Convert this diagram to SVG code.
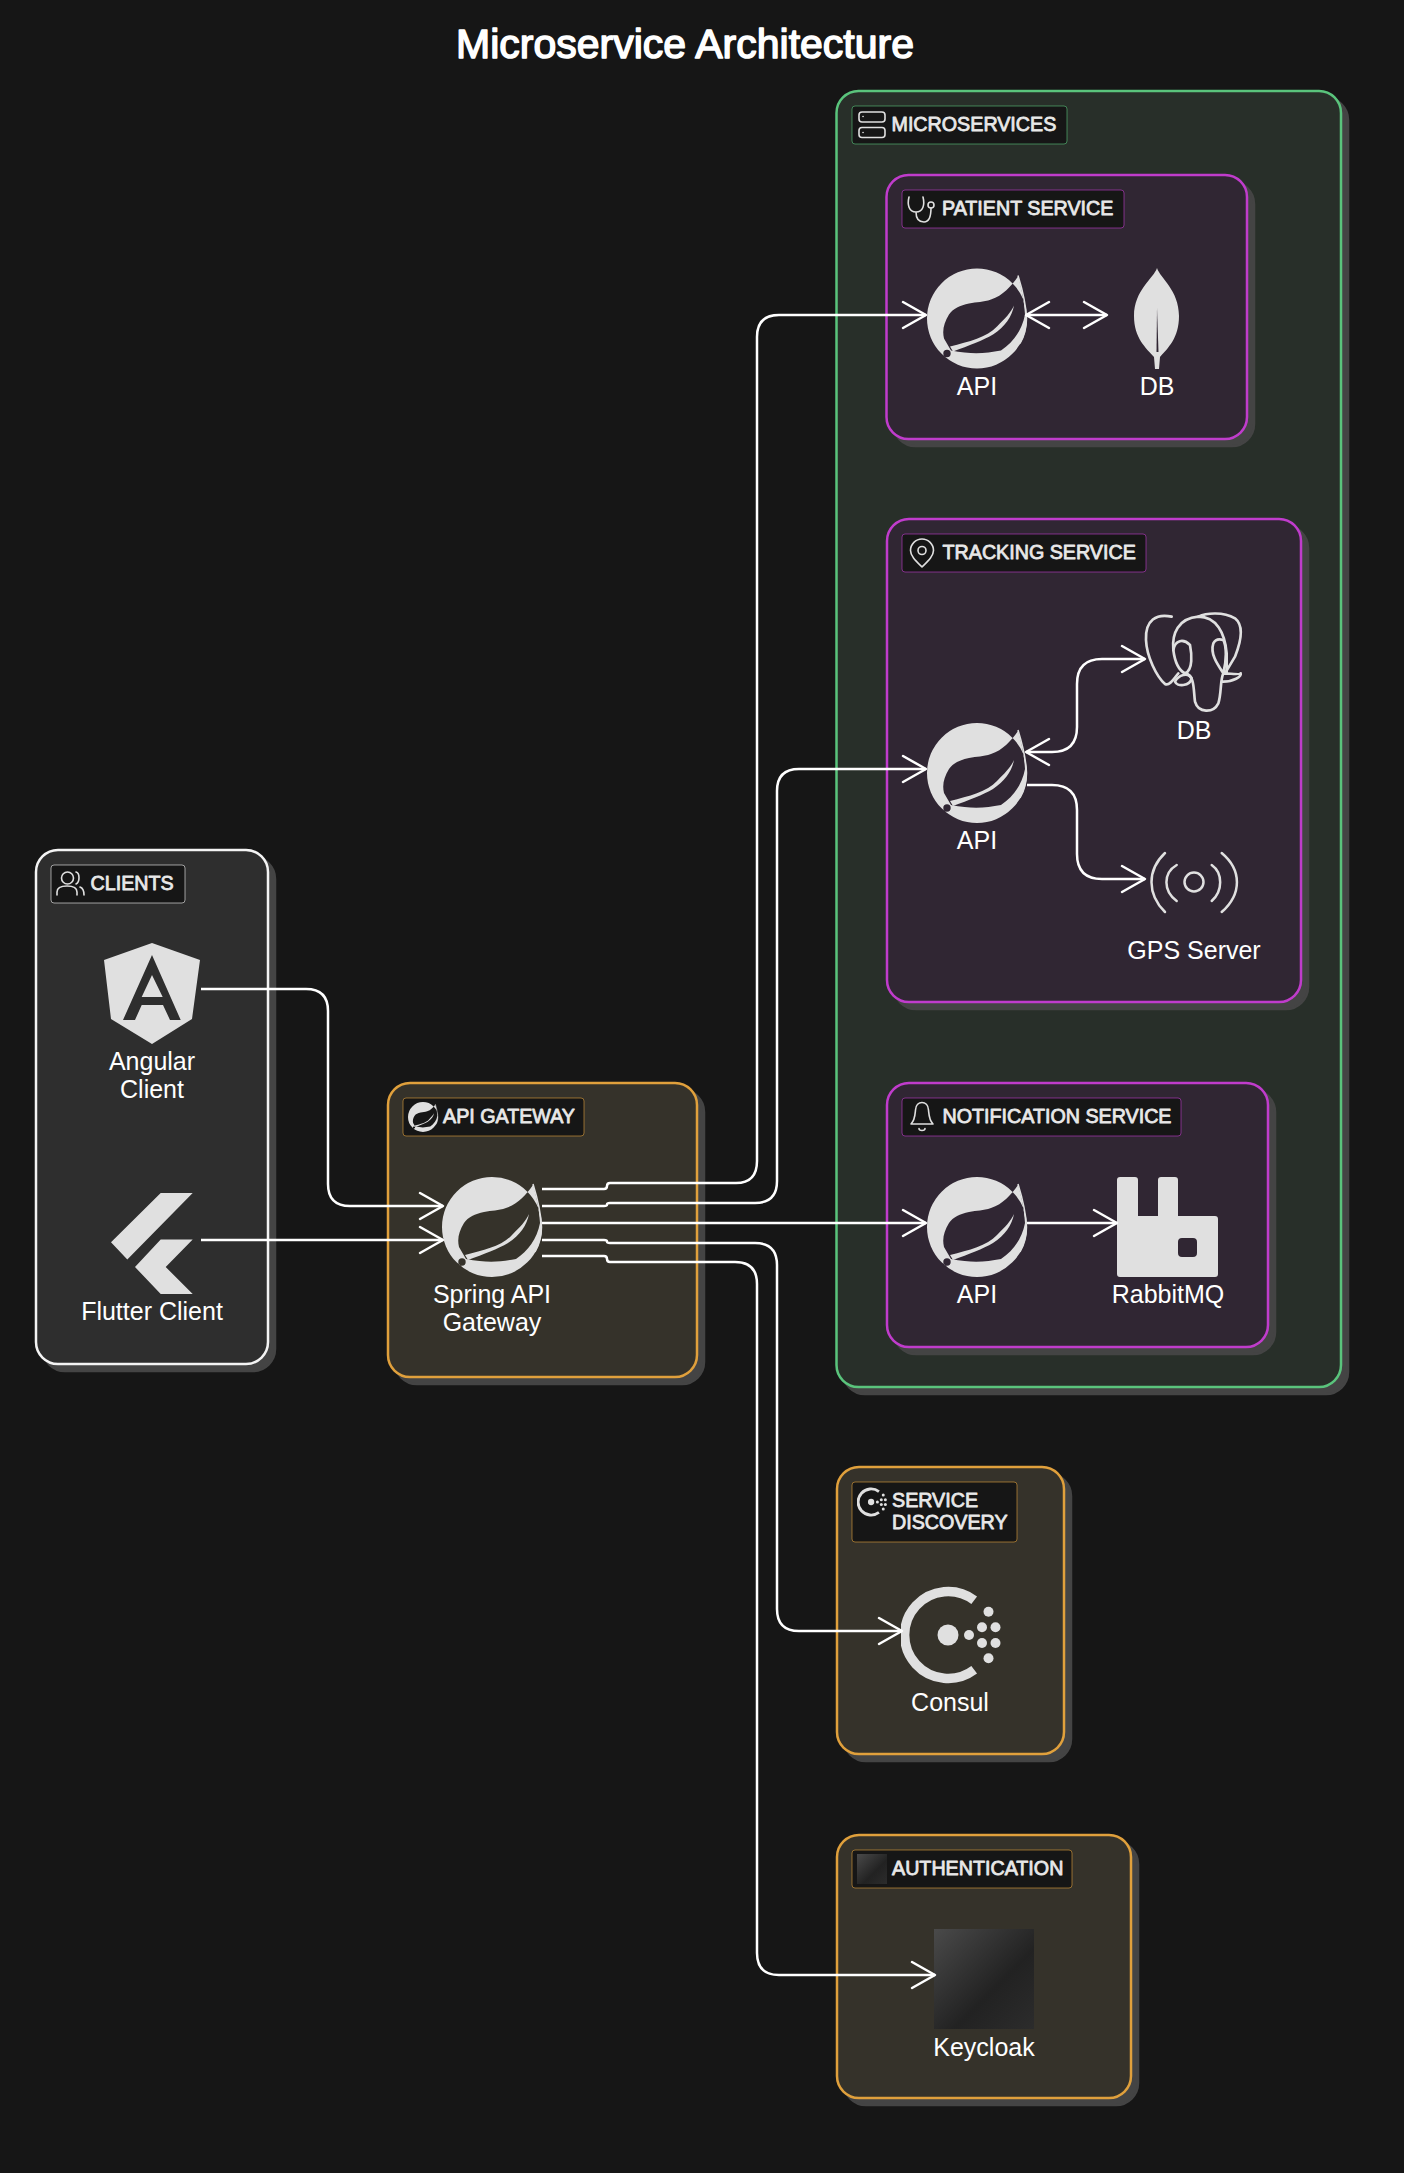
<svg xmlns="http://www.w3.org/2000/svg" width="1404" height="2173" viewBox="0 0 1404 2173">
<style>
text{font-family:"Liberation Sans",Arial,sans-serif}
.bg{fill:#161616}
.sh{fill:#444;stroke:#444;stroke-width:2.5}
.box{stroke-width:2.5}
.c-w{fill:#2e2e2e;stroke:#f4f4f4}
.c-o{fill:#35322a;stroke:#e0a03c}
.c-g{fill:#282f29;stroke:#5ac47c}
.c-p{fill:#302633;stroke:#c03ccc}
.lb{fill:#161616;stroke-width:1;stroke-opacity:.6}
.lt{font-size:19.7px;fill:#e8e8e8;stroke:#e8e8e8;stroke-width:.8;stroke-linejoin:round}
.nt{font-size:25px;fill:#fff;text-anchor:middle}
.ico{fill:#e0e0e0}
.ol2{fill:none;stroke:#e0e0e0;stroke-width:1.6;stroke-linecap:round;stroke-linejoin:round}
.e{fill:none;stroke:#fff;stroke-width:2.5}
.h{fill:none;stroke:#fff;stroke-width:2.5;stroke-linecap:round;stroke-linejoin:round}
</style>
<defs>
<linearGradient id="kc" x1="0" y1="0" x2="1" y2="1"><stop offset="0" stop-color="#4a4a4a"/><stop offset=".6" stop-color="#222"/><stop offset="1" stop-color="#2c2c2c"/></linearGradient>
<symbol id="spring" viewBox="0 0 100 100" overflow="visible">
<path class="ico" fill-rule="evenodd" d="M50 0A50 50 0 1 1 50 100A50 50 0 1 1 50 0ZM91 8C84 18 76 27 64 31C56 34 50 33 42 35C33 37 26 40 22 46C17 54 15 62 17 70L24 82C45 86 58 85 74 82C86 74 95 62 98 46C97 30 94 18 91 8ZM23.7 85A3.7 3.7 0 1 0 16.3 85A3.7 3.7 0 1 0 23.7 85Z"/>
<path class="ico" d="M23 78C42 73 60 69 70 58C78 50 84 44 87 37C85 48 78 58 66 66C56 72 42 77 26 83Z"/>
<path fill="none" stroke="#e0e0e0" stroke-width="1.5" d="M91 7C95 20 99 35 99.5 50C99.5 60 97 68 93 75"/>
</symbol>
<symbol id="consul" viewBox="0 0 100 100">
<path fill="none" stroke="#e0e0e0" stroke-width="9.5" d="M73.2 15.2A43.5 43.5 0 1 0 73.2 84.8"/>
<g class="ico"><circle cx="47" cy="50" r="10.5"/><circle cx="68" cy="50" r="5"/><circle cx="81" cy="42.3" r="5"/><circle cx="81" cy="58" r="5"/><circle cx="94.5" cy="42.3" r="5"/><circle cx="94.5" cy="58" r="5"/><circle cx="87.5" cy="26.7" r="5"/><circle cx="87.5" cy="73.3" r="5"/></g>
</symbol>
<path id="ah" class="h" d="M-23 -13L0 0L-23 13"/>
</defs>
<rect class="bg" width="1404" height="2173"/>
<text x="685" y="58" text-anchor="middle" style="font-size:41px;fill:#fff;stroke:#fff;stroke-width:1.5;stroke-linejoin:round">Microservice Architecture</text>

<g id="clients">
<rect class="sh" x="43" y="857" width="232" height="514" rx="22"/>
<rect class="box c-w" x="36" y="850" width="232" height="514" rx="22"/>
<rect class="lb" stroke="#f4f4f4" x="51" y="865" width="134" height="38" rx="3"/>
<g class="ol2"><circle cx="67.5" cy="878" r="6"/><path d="M57 895V892C57 888 61 886 67 886C73 886 77 888 77 892V895M76 872C80 873 80 882 76 884M80 887C83 888 84 891 84 895"/></g>
<text class="lt" x="90.500" y="890">CLIENTS</text>
</g>
<g id="angular">
<path class="ico" fill-rule="evenodd" d="M152 943L200 960L192 1019L152 1044L111 1019L104 960ZM152 955L123 1020H135L141.700 1005H163L170 1020H180.700ZM152 975L141.700 997H162.700Z"/>
<text class="nt" x="152" y="1070">Angular</text><text class="nt" x="152" y="1098">Client</text>
</g>
<g id="flutter">
<path class="ico" d="M160.700 1193H192.700L127.300 1259.400L111 1242.200ZM160.700 1239.500H192.700L165.700 1267L192.700 1294H160.700L135 1267Z"/>
<text class="nt" x="152" y="1320">Flutter Client</text>
</g>

<g id="gateway">
<rect class="sh" x="395" y="1090" width="309" height="294" rx="22"/>
<rect class="box c-o" x="388" y="1083" width="309" height="294" rx="22"/>
<rect class="lb" stroke="#e0a03c" x="403" y="1098" width="181" height="38" rx="3"/>
<use href="#spring" x="408" y="1102" width="30" height="30"/>
<text class="lt" x="443" y="1123">API GATEWAY</text>
<use href="#spring" x="442" y="1177" width="100" height="100"/>
<text class="nt" x="492" y="1303">Spring API</text><text class="nt" x="492" y="1331">Gateway</text>
</g>

<g id="microservices">
<rect class="sh" x="843" y="98" width="505" height="1296" rx="22"/>
<rect class="box c-g" x="836.500" y="91" width="504.500" height="1296" rx="22"/>
<rect class="lb" stroke="#5ac47c" x="852" y="106" width="215" height="38" rx="3"/>
<g class="ol2"><rect x="859" y="112" width="26" height="10" rx="3"/><rect x="859" y="127.500" width="26" height="10" rx="3"/><path d="M863 116.500h.1M863 132.500h.1"/></g>
<text class="lt" x="891.500" y="131">MICROSERVICES</text>
</g>

<g id="patient-service">
<rect class="sh" x="893.500" y="182" width="360.500" height="264" rx="22"/>
<rect class="box c-p" x="886.500" y="175" width="360.500" height="264" rx="22"/>
<rect class="lb" stroke="#c03ccc" x="902" y="190" width="222" height="38" rx="3"/>
<g class="ol2"><path d="M909 197C907 205 909 212 916 212C923 212 925 205 923 197M916 212C916 219 919 222 924 222C929 222 931 217 931 208"/><circle cx="931" cy="205" r="3"/></g>
<text class="lt" x="942" y="215">PATIENT SERVICE</text>
<use href="#spring" x="927" y="268.500" width="100" height="100"/>
<text class="nt" x="977" y="395">API</text>
<path class="ico" d="M1157 268C1160 278 1179 290 1179 316C1179 338 1168 348 1160 357L1159 369H1155L1154 357C1146 348 1134 338 1134 316C1134 290 1154 278 1157 268Z"/>
<path fill="#302633" d="M1157 308L1158.500 352L1156.500 352Z"/>
<text class="nt" x="1157" y="395">DB</text>
</g>

<g id="tracking-service">
<rect class="sh" x="894" y="526" width="414" height="483" rx="22"/>
<rect class="box c-p" x="887" y="519" width="414" height="483" rx="22"/>
<rect class="lb" stroke="#c03ccc" x="902" y="534" width="244" height="38" rx="3"/>
<g class="ol2"><path d="M922 567C916 561 910.500 556 910.500 550.500A11.500 11.500 0 0 1 933.500 550.500C933.500 556 928 561 922 567Z"/><circle cx="922" cy="550.500" r="4"/></g>
<text class="lt" x="942.500" y="559">TRACKING SERVICE</text>
<use href="#spring" x="927" y="723" width="100" height="100"/>
<text class="nt" x="977" y="849">API</text>
<g transform="translate(870 510) scale(.33333)" fill="none" stroke="#e0e0e0" stroke-width="8" stroke-linecap="round" stroke-linejoin="round">
<path d="M905 320C860 310 825 330 828 390C830 440 860 500 885 522C900 530 915 500 925 490"/>
<path d="M910 420C905 370 925 325 985 320C1040 320 1065 370 1070 430V490"/>
<path d="M985 320C1010 308 1060 305 1095 325C1120 345 1115 390 1095 440L1065 490"/>
<path d="M945 490C975 495 970 540 975 575C985 610 1030 610 1045 580C1055 550 1050 510 1060 490C1080 490 1110 495 1112 490C1115 500 1090 515 1060 515"/>
<path d="M910 420C915 460 925 480 945 490C970 480 965 430 960 405C940 385 915 390 910 420"/>
<path d="M1030 400C1020 430 1040 460 1060 490C1070 450 1070 410 1060 390C1045 385 1035 390 1030 400"/>
<path d="M915 515C925 495 955 485 965 505C960 530 920 530 915 515"/>
</g>
<text class="nt" x="1194" y="739">DB</text>
<g fill="none" stroke="#e0e0e0" stroke-width="2.500" stroke-linecap="round"><circle cx="1194" cy="882" r="9.500"/><path d="M1176.700 865C1163 873 1163 891 1176.700 901M1211.700 865C1223 873 1223 891 1211.700 901M1165 853C1147 870 1147 894 1165 912M1221.700 853C1242 870 1242 894 1221.700 912"/></g>
<text class="nt" x="1194" y="959">GPS Server</text>
</g>

<g id="notification-service">
<rect class="sh" x="894" y="1090" width="381" height="264" rx="22"/>
<rect class="box c-p" x="887" y="1083" width="381" height="264" rx="22"/>
<rect class="lb" stroke="#c03ccc" x="902" y="1098" width="279" height="38" rx="3"/>
<path class="ol2" d="M911 1124C915 1120 915 1115 915.500 1110C916 1100 928 1100 928.500 1110C929 1115 929 1120 933 1124ZM919 1128.500A3 2 0 0 0 925 1128.500"/>
<text class="lt" x="942.500" y="1123">NOTIFICATION SERVICE</text>
<use href="#spring" x="927" y="1177" width="100" height="100"/>
<text class="nt" x="977" y="1303">API</text>
<path class="ico" fill-rule="evenodd" d="M1120 1177H1135Q1138 1177 1138 1180V1216H1158V1180Q1158 1177 1161 1177H1175Q1178 1177 1178 1180V1216H1215Q1218 1216 1218 1219V1274Q1218 1277 1215 1277H1120Q1117 1277 1117 1274V1180Q1117 1177 1120 1177ZM1182 1238Q1178 1238 1178 1242V1253Q1178 1257 1182 1257H1193Q1197 1257 1197 1253V1242Q1197 1238 1193 1238Z"/>
<text class="nt" x="1168" y="1303">RabbitMQ</text>
</g>

<g id="service-discovery">
<rect class="sh" x="844" y="1474" width="227" height="287" rx="22"/>
<rect class="box c-o" x="837" y="1467" width="227" height="287" rx="22"/>
<rect class="lb" stroke="#e0a03c" x="852" y="1482" width="165" height="60" rx="3"/>
<use href="#consul" x="857" y="1487" width="30" height="30"/>
<text class="lt" x="892" y="1507">SERVICE</text><text class="lt" x="892" y="1529">DISCOVERY</text>
<use href="#consul" x="901" y="1585" width="100" height="100"/>
<text class="nt" x="950" y="1711">Consul</text>
</g>

<g id="authentication">
<rect class="sh" x="844" y="1842" width="294" height="263" rx="22"/>
<rect class="box c-o" x="837" y="1835" width="294" height="263" rx="22"/>
<rect class="lb" stroke="#e0a03c" x="852" y="1850" width="220" height="38" rx="3"/>
<rect x="857" y="1854" width="30" height="30" fill="url(#kc)"/>
<text class="lt" x="892" y="1875">AUTHENTICATION</text>
<rect x="934" y="1929" width="100" height="100" fill="url(#kc)"/>
<text class="nt" x="984" y="2056">Keycloak</text>
</g>

<g id="connectors">
<path class="e" d="M201 989H306Q328 989 328 1011V1184Q328 1206 350 1206H443"/>
<path class="e" d="M201 1240H443"/>
<path class="e" d="M542 1189H604Q607 1189 607 1186Q607 1183 610 1183H736Q757 1183 757 1161V337Q757 315 779 315H926"/>
<path class="e" d="M542 1206H604Q607 1206 607 1204.500Q607 1203 610 1203H755Q777 1203 777 1181V791Q777 769 799 769H926"/>
<path class="e" d="M542 1223H926"/>
<path class="e" d="M542 1240H604Q607 1240 607 1241.500Q607 1243 610 1243H755Q777 1243 777 1265V1609Q777 1631 799 1631H902"/>
<path class="e" d="M542 1256H604Q607 1256 607 1259Q607 1262 610 1262H735Q757 1262 757 1284V1953Q757 1975 779 1975H935"/>
<path class="e" d="M1026 315H1107"/>
<path class="e" d="M1026 752H1052Q1077 752 1077 727V684Q1077 659 1102 659H1145"/>
<path class="e" d="M1027 785H1052Q1077 785 1077 810V854Q1077 879 1102 879H1145"/>
<path class="e" d="M1027 1223H1117"/>
<use href="#ah" x="443" y="1206"/><use href="#ah" x="443" y="1240"/>
<use href="#ah" x="926" y="315"/><use href="#ah" x="926" y="769"/><use href="#ah" x="926" y="1223"/>
<use href="#ah" x="902" y="1631"/><use href="#ah" x="935" y="1975"/>
<use href="#ah" transform="translate(1026 315) rotate(180)"/><use href="#ah" x="1107" y="315"/>
<use href="#ah" transform="translate(1026 752) rotate(180)"/><use href="#ah" x="1145" y="659"/><use href="#ah" x="1145" y="879"/>
<use href="#ah" x="1117" y="1223"/>
</g>
</svg>
